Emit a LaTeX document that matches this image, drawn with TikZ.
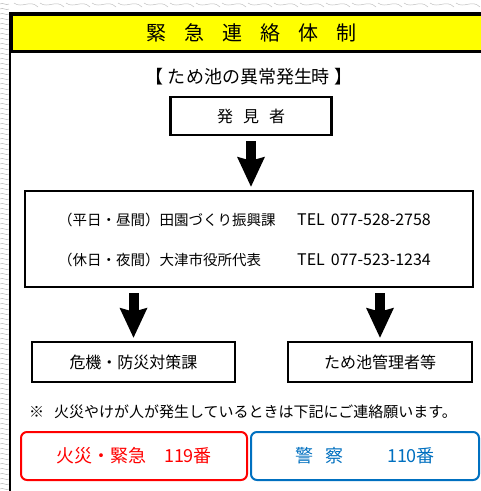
\documentclass[tikz,border=0pt]{standalone}
\usepackage{fontspec}
\setmainfont{Noto Sans CJK JP}
\usetikzlibrary{arrows.meta}
\definecolor{bandyellow}{RGB}{255,255,0}
\definecolor{firered}{RGB}{255,0,0}
\definecolor{policeblue}{RGB}{0,112,192}

\begin{document}
\begin{tikzpicture}[
  x=1pt,y=-1pt,
  box/.style={draw,line width=2.6pt,inner sep=0pt},
  callbox/.style={draw,line width=2pt,rounded corners=6pt,inner sep=0pt,minimum height=48pt},
  bigarrow/.style={line width=10pt,-{Stealth[width=28pt,length=30pt,inset=4pt,line width=0pt]},shorten <=5pt,shorten >=3pt},
  mapline/.style={draw=black!25,line width=0.5pt}
  ]
  \clip (0,0) rectangle (481,491);
  \foreach \y in {4,9,...,489}
    \path[mapline] (0,\y) .. controls (3,\y-2) and (6,\y+2) .. (9,\y);
  \foreach \x in {14,40,...,480}
    \path[mapline] (\x,3) .. controls (\x+8,9) and (\x+16,-1) .. (\x+24,7);
  \path[draw,line width=2pt,fill=white] (10,495) -- (10,13) -- (490,13) -- (490,495);

  \node[box,fill=bandyellow,minimum width=480pt,minimum height=37pt,anchor=north west] (NTitle) at (10,13)
    {\fontsize{20pt}{20pt}\selectfont 緊\hspace{18pt}急\hspace{18pt}連\hspace{18pt}絡\hspace{18pt}体\hspace{18pt}制};
  \node (NHead) at (249,77) {\fontsize{18pt}{18pt}\selectfont 【 ため池の異常発生時 】};
  \node[box,minimum width=161pt,minimum height=38pt] (NFinder) at (251,116)
    {\fontsize{16pt}{16pt}\selectfont 発\hspace{10pt}見\hspace{10pt}者};

  \node[box,minimum width=448pt,minimum height=96pt] (NContact) at (249,239) {};
  \path (NContact.west) ++(31,-19) node[anchor=west] (NWeekday) {\fontsize{14.5pt}{14.5pt}\selectfont （平日・昼間）田園づくり振興課}
    ++(239,0) node[anchor=west] (NWeekdayTel) {\fontsize{16pt}{16pt}\selectfont TEL\hspace{6pt}077-528-2758};
  \path (NContact.west) ++(31,21) node[anchor=west] (NHoliday) {\fontsize{14.5pt}{14.5pt}\selectfont （休日・夜間）大津市役所代表}
    ++(239,0) node[anchor=west] (NHolidayTel) {\fontsize{16pt}{16pt}\selectfont TEL\hspace{6pt}077-523-1234};

  \node[box,minimum width=203pt,minimum height=40pt] (NCrisis) at (133.5,362)
    {\fontsize{16pt}{16pt}\selectfont 危機・防災対策課};
  \node[box,minimum width=184pt,minimum height=40pt] (NOwner) at (380,362)
    {\fontsize{16pt}{16pt}\selectfont ため池管理者等};

  \node (NNote) at (243,412) {\fontsize{15pt}{15pt}\selectfont ※\hspace{10pt}火災やけが人が発生しているときは下記にご連絡願います。};
  \node[callbox,draw=firered,text=firered,minimum width=226pt] (NFire) at (134,456)
    {\fontsize{18pt}{18pt}\selectfont 火災・緊急\hspace{18pt}119番};
  \node[callbox,draw=policeblue,text=policeblue,minimum width=228pt] (NPolice) at (365,456)
    {\fontsize{18pt}{18pt}\selectfont 警\hspace{12pt}察\hspace{44pt}110番};

  \path[bigarrow]
  (NFinder.south)                edge (NFinder.south |- NContact.north)
  (NCrisis.north |- NContact.south) edge (NCrisis.north)
  (NOwner.north |- NContact.south)  edge (NOwner.north)
  ;
\end{tikzpicture}
\end{document}
